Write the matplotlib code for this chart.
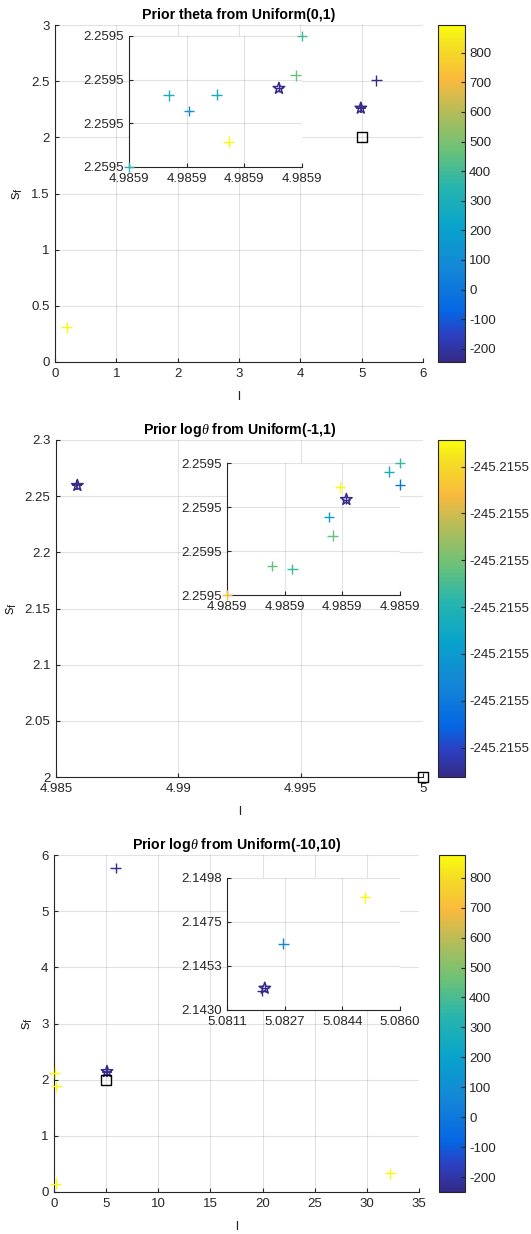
import numpy as np
import matplotlib
matplotlib.use('Agg')
import matplotlib.pyplot as plt
from matplotlib.colors import LinearSegmentedColormap, Normalize
from matplotlib.cm import ScalarMappable
from matplotlib.ticker import FormatStrFormatter

plt.rcParams['font.family'] = ['Liberation Sans', 'DejaVu Sans']
plt.rcParams['mathtext.fontset'] = 'custom'
plt.rcParams['mathtext.rm'] = 'Liberation Sans'
plt.rcParams['mathtext.it'] = 'Liberation Serif:italic'

# ---------------- data ----------------
titles = ['Prior theta from Uniform(0,1)',
          r'Prior log$\mathit{\theta}$ from Uniform(-1,1)',
          r'Prior log$\mathit{\theta}$ from Uniform(-10,10)']

# panel 1
p1_x = [0.19, 5.24]
p1_y = [0.31, 2.507]
p1_c = [894, -240]
p1_best = (4.9859026, 2.2595018)
p1_true = (5.0, 2.0)
p1_xlim, p1_ylim = (0, 6), (0, 3)
p1_xticks = [0, 1, 2, 3, 4, 5, 6]
p1_yticks = [0, 0.5, 1, 1.5, 2, 2.5, 3]
p1_in_x = [4.9859000, 4.98590069, 4.98590104, 4.98590152, 4.98590173, 4.98590289, 4.9859030]
p1_in_y = [2.2595000, 2.25950164, 2.25950128, 2.25950166, 2.25950058, 2.2595021, 2.2595030]
p1_in_c = [340, 290, 110, 270, 894, 470, 400]
p1_in_xlim = (4.9859000, 4.9859030)
p1_in_ylim = (2.2595000, 2.2595030)
p1_cmin, p1_cmax = -245, 894
p1_cticks = [-200, -100, 0, 100, 200, 300, 400, 500, 600, 700, 800]

# panel 2
p2_x = []
p2_y = []
p2_c = []
p2_best = (4.98587207, 2.25950217)
p2_true = (5.0, 2.0)
p2_xlim, p2_ylim = (4.985, 5.0), (2.0, 2.3)
p2_xticks = [4.985, 4.99, 4.995, 5.0]
p2_yticks = [2.0, 2.05, 2.1, 2.15, 2.2, 2.25, 2.3]
p2_in_x = [4.9858700, 4.98587078, 4.98587113, 4.98587183, 4.98587177, 4.98587196,
           4.98587281, 4.9858730, 4.9858730]
p2_in_y = [2.2595000, 2.25950066, 2.25950059, 2.25950135, 2.25950177, 2.25950245,
           2.2595028, 2.2595030, 2.25950251]
p2_in_c = [-245.21552451, -245.21552617, -245.21552667, -245.21552617, -245.21552789,
           -245.21552343, -245.21552739, -245.21552667, -245.21552905]
p2_in_xlim = (4.9858700, 4.9858730)
p2_in_ylim = (2.2595000, 2.2595030)
p2_cmin, p2_cmax = -245.21553063, -245.21552343
p2_cticks = [-245.215530, -245.215529, -245.215528, -245.215527,
             -245.215526, -245.215525, -245.215524]

# panel 3
p3_x = [5.91, 0.06, 0.22, 0.16, 32.25]
p3_y = [5.77, 2.127, 1.88, 0.15, 0.33]
p3_c = [-240, 876, 876, 876, 876]
p3_best = (5.08217, 2.14412)
p3_true = (5.0, 2.0)
p3_xlim, p3_ylim = (0, 35), (0, 6)
p3_xticks = [0, 5, 10, 15, 20, 25, 30, 35]
p3_yticks = [0, 1, 2, 3, 4, 5, 6]
p3_in_x = [5.08209, 5.08269, 5.08501]
p3_in_y = [2.14400, 2.14641, 2.14880]
p3_in_c = [-240, 60, 876]
p3_in_xlim = (5.0811, 5.0860)
p3_in_ylim = (2.1430, 2.1498)
p3_cmin, p3_cmax = -250, 876
p3_cticks = [-200, -100, 0, 100, 200, 300, 400, 500, 600, 700, 800]

# ---------------- style ----------------
parula = LinearSegmentedColormap.from_list('parula', [
    (0.00, (0.208, 0.166, 0.529)),
    (0.08, (0.170, 0.250, 0.760)),
    (0.15, (0.020, 0.400, 0.890)),
    (0.28, (0.080, 0.530, 0.840)),
    (0.40, (0.030, 0.640, 0.800)),
    (0.52, (0.150, 0.710, 0.680)),
    (0.63, (0.420, 0.760, 0.470)),
    (0.74, (0.700, 0.740, 0.350)),
    (0.84, (0.980, 0.730, 0.240)),
    (0.93, (0.960, 0.860, 0.150)),
    (1.00, (0.976, 0.984, 0.055)),
])

W, H = 531, 1234
AX_COL = (0.15, 0.15, 0.15)
FS = 9.5


def rect(l, t, r, b):
    return [l / W, 1 - b / H, (r - l) / W, (b - t) / H]


def style(ax):
    for s in ['top', 'right']:
        ax.spines[s].set_visible(False)
    for s in ['left', 'bottom']:
        ax.spines[s].set_color(AX_COL)
        ax.spines[s].set_linewidth(0.8)
    ax.grid(True, color=AX_COL, alpha=0.13, lw=0.8)
    ax.set_axisbelow(True)
    ax.tick_params(direction='in', length=3, width=0.8, colors=AX_COL,
                   labelsize=FS, top=False, right=False, pad=4)


fig = plt.figure(figsize=(W / 100, H / 100), dpi=100)

panels = [
    dict(main=rect(55, 25, 423, 362), cb=rect(438, 25, 465, 362), ins=rect(129, 36, 302, 167),
         x=p1_x, y=p1_y, c=p1_c, best=p1_best, true=p1_true, xlim=p1_xlim, ylim=p1_ylim,
         xt=p1_xticks, yt=p1_yticks, ix=p1_in_x, iy=p1_in_y, ic=p1_in_c,
         ixl=p1_in_xlim, iyl=p1_in_ylim, cmin=p1_cmin, cmax=p1_cmax, ct=p1_cticks,
         cfmt='%g'),
    dict(main=rect(56, 440, 423, 777), cb=rect(438, 440, 465, 777), ins=rect(227, 463, 400, 595),
         x=p2_x, y=p2_y, c=p2_c, best=p2_best, true=p2_true, xlim=p2_xlim, ylim=p2_ylim,
         xt=p2_xticks, yt=p2_yticks, ix=p2_in_x, iy=p2_in_y, ic=p2_in_c,
         ixl=p2_in_xlim, iyl=p2_in_ylim, cmin=p2_cmin, cmax=p2_cmax, ct=p2_cticks,
         cfmt='%.4f'),
    dict(main=rect(54, 855, 419, 1192), cb=rect(439, 855, 465, 1192), ins=rect(227, 878, 400, 1010),
         x=p3_x, y=p3_y, c=p3_c, best=p3_best, true=p3_true, xlim=p3_xlim, ylim=p3_ylim,
         xt=p3_xticks, yt=p3_yticks, ix=p3_in_x, iy=p3_in_y, ic=p3_in_c,
         ixl=p3_in_xlim, iyl=p3_in_ylim, cmin=p3_cmin, cmax=p3_cmax, ct=p3_cticks,
         cfmt='%g'),
]

for i, P in enumerate(panels):
    norm = Normalize(vmin=P['cmin'], vmax=P['cmax'])
    dark = parula(0.0)

    ax = fig.add_axes(P['main'])
    style(ax)
    ax.set_xlim(P['xlim'])
    ax.set_ylim(P['ylim'])
    ax.set_xticks(P['xt'])
    ax.set_yticks(P['yt'])
    ax.xaxis.set_major_formatter(FormatStrFormatter('%g'))
    ax.yaxis.set_major_formatter(FormatStrFormatter('%g'))
    if len(P['x']):
        ax.scatter(P['x'], P['y'], c=P['c'], cmap=parula, norm=norm, marker='+',
                   s=60, linewidths=1.0, clip_on=False, zorder=3)
    ax.scatter([P['best'][0]], [P['best'][1]], marker='+', s=60, color=dark,
               linewidths=1.3, zorder=4, clip_on=False)
    ax.scatter([P['best'][0]], [P['best'][1]], marker='*', s=75, facecolors='none',
               edgecolors=dark, linewidths=1.1, zorder=5, clip_on=False)
    ax.scatter([P['true'][0]], [P['true'][1]], marker='s', s=50, facecolors='none',
               edgecolors='black', linewidths=1.0, zorder=5, clip_on=False)
    ax.set_xlabel('l', fontsize=FS, color=AX_COL, labelpad=8)
    ax.set_ylabel(r'$\mathrm{s_f}$', fontsize=FS + 1.5, color=AX_COL, labelpad=4)
    ax.set_title(titles[i], fontsize=10.2, fontweight='bold', pad=4)

    # inset
    ia = fig.add_axes(P['ins'])
    style(ia)
    ia.set_xlim(P['ixl'])
    ia.set_ylim(P['iyl'])
    ia.set_xticks(np.linspace(P['ixl'][0], P['ixl'][1], 4))
    ia.set_yticks(np.linspace(P['iyl'][0], P['iyl'][1], 4))
    ia.xaxis.set_major_formatter(FormatStrFormatter('%.4f'))
    ia.yaxis.set_major_formatter(FormatStrFormatter('%.4f'))
    ia.scatter(P['ix'], P['iy'], c=P['ic'], cmap=parula, norm=norm, marker='+',
               s=60, linewidths=1.0, clip_on=False, zorder=3)
    ia.scatter([P['best'][0]], [P['best'][1]], marker='*', s=75, facecolors='none',
               edgecolors=dark, linewidths=1.1, zorder=5, clip_on=False)
    ia.scatter([P['best'][0]], [P['best'][1]], marker='+', s=30, color=dark,
               linewidths=0.9, zorder=5, clip_on=False)

    # colorbar
    cax = fig.add_axes(P['cb'])
    cb = fig.colorbar(ScalarMappable(norm=norm, cmap=parula), cax=cax)
    cb.set_ticks(P['ct'])
    cb.ax.yaxis.set_major_formatter(FormatStrFormatter(P['cfmt']))
    cb.ax.tick_params(direction='in', length=3, width=0.8, colors=AX_COL, labelsize=FS, pad=3)
    cb.outline.set_edgecolor(AX_COL)
    cb.outline.set_linewidth(0.8)

fig.savefig('out.png', dpi=100, facecolor='white')
